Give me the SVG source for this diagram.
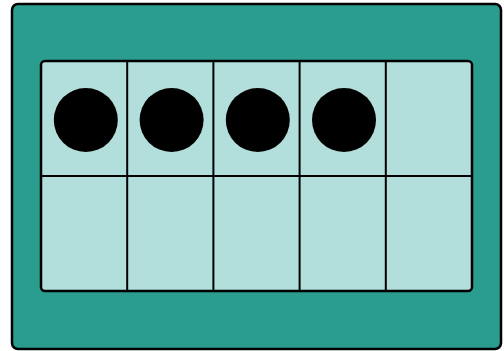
<svg xmlns="http://www.w3.org/2000/svg" width="504" height="351" viewBox="0 0 504 351">
<style>
.frame{fill:#2a9d8f;stroke:#000;stroke-width:2.5}
.board{fill:#b2dfdb;stroke:#000;stroke-width:2.5}
.grid{stroke:#000;stroke-width:2;fill:none}
.dot{fill:#000}
</style>
<g id="frame"><rect class="frame" x="12" y="4" width="489" height="345" rx="6"/></g>
<g id="board"><rect class="board" x="41" y="61" width="431" height="230" rx="4"/></g>
<g id="grid">
<line class="grid" x1="127.2" y1="61" x2="127.2" y2="291"/>
<line class="grid" x1="213.4" y1="61" x2="213.4" y2="291"/>
<line class="grid" x1="299.6" y1="61" x2="299.6" y2="291"/>
<line class="grid" x1="385.8" y1="61" x2="385.8" y2="291"/>
<line class="grid" x1="41" y1="176" x2="472" y2="176"/>
</g>
<g id="counters">
<circle class="dot" cx="85.8" cy="120" r="32"/>
<circle class="dot" cx="171.6" cy="120" r="32"/>
<circle class="dot" cx="257.8" cy="120" r="32"/>
<circle class="dot" cx="344" cy="120" r="32"/>
</g>
</svg>
